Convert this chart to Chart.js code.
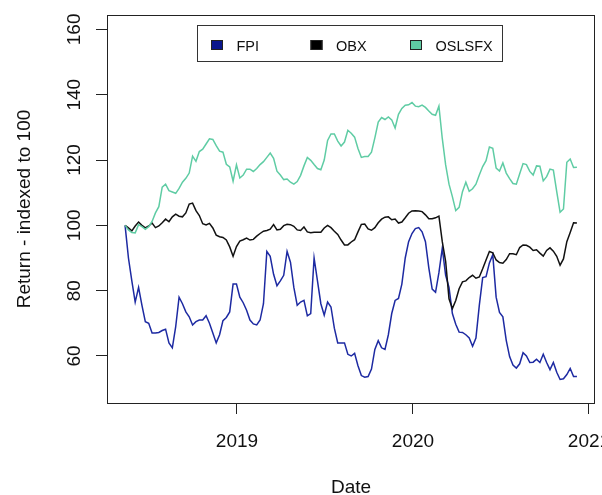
<!DOCTYPE html>
<html>
<head>
<meta charset="utf-8">
<title>FPI vs OBX vs OSLSFX</title>
<script src="https://cdn.jsdelivr.net/npm/chart.js@4.4.1/dist/chart.umd.min.js"></script>
<style>
    html, body { margin: 0; padding: 0; background: #fff; }
    #wrap { width: 602px; height: 495px; }
</style>
</head>
<body>
<div id="wrap"><canvas id="grafico" width="602" height="495"></canvas></div>
<script>
// weekly observations, first week starting here
const startDate = '2018-05-14';

const fpi = [
    100, 90, 83, 76.5, 81, 75.5, 70.5, 70, 67, 67,
    67.2, 67.8, 68.2, 64, 62.5, 69, 78, 76, 73.5, 72,
    69.5, 70.5, 71, 71, 72.3, 70, 67, 64, 66.5, 70.8,
    71.8, 73.5, 82, 82, 78, 76.3, 74, 71, 69.8, 69.5,
    71, 76, 92, 90.5, 85, 81.5, 83, 84.7, 92, 88.7,
    81, 75.5, 76.5, 77, 72.3, 73, 90, 83, 76, 72.5,
    76.5, 75, 68.5, 64, 64, 64, 60.5, 60, 60.8, 57,
    54, 53.5, 53.7, 56, 62, 64.7, 62.5, 62, 66.5, 73,
    77, 77.6, 82, 90, 95, 97.5, 99, 99.3, 98, 95,
    87, 80.5, 79.5, 85.5, 93, 84.7, 81, 73, 69.7, 67.3,
    67.2, 66.5, 65.5, 63, 65.5, 75.5, 84, 84.3, 88.5, 91,
    78, 73.3, 72, 64.8, 59.8, 57.2, 56.3, 57.6, 61, 60,
    58, 58.1, 59, 58, 60.5, 58, 55.8, 58, 55, 52.8,
    53, 54.3, 56.2, 53.7, 53.7
];

const obx = [
    100, 99.2, 98.3, 99.8, 101, 100, 99.2, 99.8, 100.7, 99.3,
    99.8, 100.8, 101.9, 101.1, 102.6, 103.4, 102.8, 102.6, 103.8, 106.5,
    106.8, 104.5, 103, 100.5, 100.1, 100.6, 99.2, 97, 96.5, 96.3,
    95.5, 93.4, 90.5, 93.5, 95.2, 95.6, 96.1, 95.5, 95.7, 96.7,
    97.5, 98.2, 98.4, 98.8, 100.2, 98.6, 98.8, 99.9, 100.3, 100.2,
    99.7, 98.6, 98.4, 99.5, 98, 97.7, 97.9, 97.9, 97.9, 99.2,
    100, 99.3, 98.2, 97.2, 95.5, 94, 94, 94.9, 95.6, 98,
    100.3, 100.4, 98.9, 98.5, 99.3, 100.8, 101.9, 102.5, 102.6, 101.7,
    101.9, 100.7, 101, 102.3, 103.7, 104.4, 104.5, 104.4, 104.2, 103.2,
    102, 102, 102.3, 102.8, 95, 89, 77.5, 74.5, 77, 80.6,
    82.7, 83, 84, 84.7, 83.8, 84.2, 86.7, 89.4, 92, 91.6,
    89.4, 88.6, 88.4, 89.5, 91.3, 91.3, 91, 93.2, 94, 93.9,
    93.3, 92.3, 92.5, 91.5, 90.6, 92.3, 93.1, 92.1, 90.5, 87.8,
    89.7, 95, 97.8, 100.8, 100.7
];

const oslsfx = [
    100, 98.6, 97.8, 97.7, 100.2, 99.6, 98.8, 99.6, 101.2, 103.8,
    105.7, 111.7, 112.6, 110.6, 110.2, 109.8, 111.3, 113.2, 114.4, 116,
    121.2, 119.6, 122.6, 123.3, 124.9, 126.5, 126.3, 124.4, 122.7, 122.4,
    118.7, 117.9, 113.5, 118.5, 114.5, 115.4, 117.2, 117.2, 116.5, 117.4,
    118.6, 119.5, 120.8, 122.1, 120.5, 116.6, 115.4, 114, 114.2, 113.2,
    112.6, 113.4, 115.3, 118.2, 120.8, 119.9, 118.6, 117.4, 117, 120,
    126, 128, 128, 125.8, 124.3, 125.5, 129.1, 128.2, 127, 123.5,
    120.8, 121.1, 121.1, 122.4, 126.8, 131.6, 133, 132.4, 133.2, 132.3,
    129.8, 134, 135.8, 136.8, 136.9, 137.6, 136.5, 136.3, 136.8, 136.1,
    135, 134, 133.7, 136.5, 126.6, 118.5, 112.6, 108.8, 104.5, 105.5,
    110.3, 113.2, 110.4, 111.2, 112.6, 115.4, 118, 119.8, 124, 123.6,
    117.5, 116.6, 119.1, 116, 114.3, 112.8, 112.6, 115.8, 118.9, 118.6,
    116.5, 115.4, 118.2, 118.1, 113.6, 114.9, 117.2, 116.9, 110.3, 104,
    105, 119.3, 120.3, 117.7, 117.8
];

const nomes = ['FPI', 'OBX', 'OSLSFX'];
const coresLinha = ['#1d2aa2', '#111111', '#5fcca4'];
const coresLegenda = ['#0a168c', '#000000', '#5fcca4'];
const xTicks = [2019, 2020, 2021];
const yTicks = [60, 80, 100, 120, 140, 160];
const yLimites = [50, 160];

const FONTE = '"Liberation Sans", Arial, Helvetica, sans-serif';

function anoDecimal(d) {
    const y = d.getUTCFullYear();
    const a = Date.UTC(y, 0, 1), b = Date.UTC(y + 1, 0, 1);
    return y + (d.getTime() - a) / (b - a);
}

const datas = fpi.map((_, i) => anoDecimal(new Date(Date.parse(startDate) + i * 7 * 86400000)));

// R style 4% padding on both axes
function expandir(lo, hi) {
    const r = hi - lo;
    return [lo - r * 0.04, hi + r * 0.04];
}
const xLim = expandir(datas[0], datas[datas.length - 1]);
const yLim = expandir(yLimites[0], yLimites[1]);

function serie(vals) {
    return vals.map((v, i) => ({ x: datas[i], y: v }));
}

const estiloR = {
    id: 'estiloR',
    afterDraw(chart) {
        const ctx = chart.ctx;
        const a = chart.chartArea;
        const ys = chart.scales.y;
        ctx.save();

        // caixa do grafico
        ctx.strokeStyle = '#222';
        ctx.lineWidth = 1;
        ctx.strokeRect(Math.round(a.left) + 0.5, Math.round(a.top) + 0.5,
            Math.round(a.right - a.left) - 1, Math.round(a.bottom - a.top));

        // rotulos do eixo y, girados
        ctx.fillStyle = '#111';
        ctx.font = '19px ' + FONTE;
        ctx.textAlign = 'center';
        ctx.textBaseline = 'alphabetic';
        ys.ticks.forEach(t => {
            const py = ys.getPixelForValue(t.value);
            ctx.save();
            ctx.translate(80, py);
            ctx.rotate(-Math.PI / 2);
            ctx.fillText(String(t.value), 0, 0);
            ctx.restore();
        });

        // titulos dos eixos
        ctx.save();
        ctx.translate(30, (a.top + a.bottom) / 2);
        ctx.rotate(-Math.PI / 2);
        ctx.fillText('Return - indexed to 100', 0, 0);
        ctx.restore();
        ctx.fillText('Date', (a.left + a.right) / 2, 493);

        // legenda
        const lx = 197.5, ly = 25.5, lw = 305, lh = 36;
        ctx.fillStyle = '#fff';
        ctx.fillRect(lx, ly, lw, lh);
        ctx.strokeStyle = '#333';
        ctx.strokeRect(lx, ly, lw, lh);
        ctx.font = '14.5px ' + FONTE;
        ctx.textAlign = 'left';
        nomes.forEach((n, i) => {
            const bx = 211 + i * 99.5;
            ctx.fillStyle = coresLegenda[i];
            ctx.fillRect(bx, 40, 12, 10);
            ctx.strokeStyle = '#222';
            ctx.strokeRect(bx + 0.5, 40.5, 11, 9);
            ctx.fillStyle = '#111';
            ctx.fillText(n, bx + 25.5, 50.5);
        });
        ctx.restore();
    }
};

const ctx = document.getElementById('grafico');

new Chart(ctx, {
    type: 'line',
    data: {
        datasets: [
            { label: nomes[0], data: serie(fpi), borderColor: coresLinha[0], borderWidth: 1.5, pointRadius: 0, tension: 0, fill: false, order: 2 },
            { label: nomes[1], data: serie(obx), borderColor: coresLinha[1], borderWidth: 1.5, pointRadius: 0, tension: 0, fill: false, order: 1 },
            { label: nomes[2], data: serie(oslsfx), borderColor: coresLinha[2], borderWidth: 1.5, pointRadius: 0, tension: 0, fill: false, order: 0 }
        ]
    },
    options: {
        responsive: false,
        maintainAspectRatio: false,
        animation: false,
        devicePixelRatio: 1,
        layout: {
            autoPadding: false,
            padding: { left: 0, right: 7, top: 15, bottom: 0 }
        },
        plugins: {
            legend: { display: false },
            tooltip: { enabled: false }
        },
        scales: {
            x: {
                type: 'linear',
                position: 'bottom',
                min: xLim[0],
                max: xLim[1],
                afterBuildTicks: s => { s.ticks = xTicks.map(v => ({ value: v })); },
                afterFit: s => {
                    s.height = 92;
                    // the last label may run off the page, like in the original
                    s.paddingLeft = 0;
                    s.paddingRight = 0;
                },
                grid: { drawOnChartArea: false, drawTicks: true, tickLength: 11, color: '#222', lineWidth: 1 },
                border: { display: false },
                ticks: {
                    autoSkip: false,
                    maxRotation: 0,
                    minRotation: 0,
                    padding: 16,
                    color: '#111',
                    font: { family: FONTE, size: 19 },
                    callback: v => String(v)
                }
            },
            y: {
                type: 'linear',
                position: 'left',
                min: yLim[0],
                max: yLim[1],
                afterBuildTicks: s => { s.ticks = yTicks.map(v => ({ value: v })); },
                afterFit: s => { s.width = 107; s.paddingTop = 0; s.paddingBottom = 0; },
                grid: { drawOnChartArea: false, drawTicks: true, tickLength: 11, color: '#222', lineWidth: 1 },
                border: { display: false },
                ticks: { display: false }
            }
        }
    },
    plugins: [estiloR]
});
</script>
</body>
</html>
